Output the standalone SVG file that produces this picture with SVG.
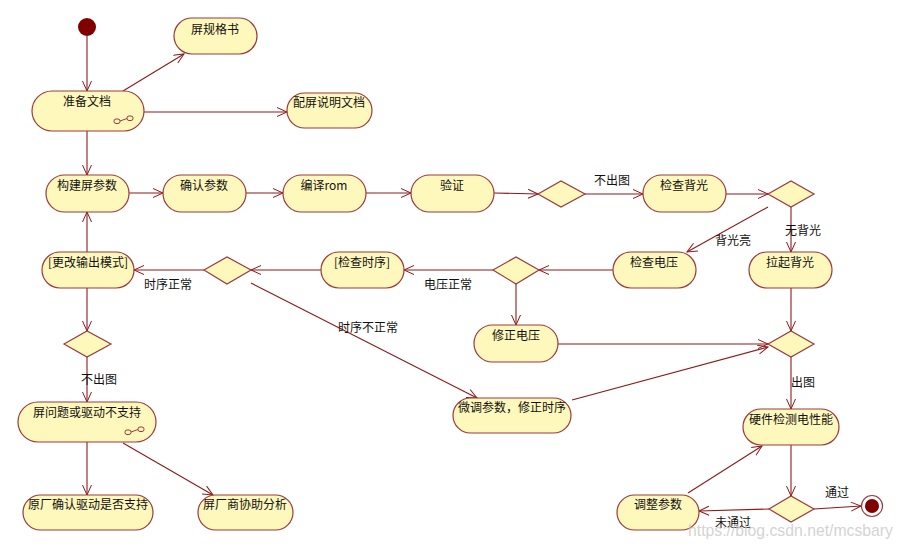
<svg xmlns="http://www.w3.org/2000/svg" width="903" height="550" viewBox="0 0 903 550">
<defs>
<marker id="arr" markerUnits="userSpaceOnUse" markerWidth="14" markerHeight="12" refX="11" refY="5" orient="auto">
<path d="M1,0.5 L11,5 L1,9.5" fill="none" stroke="#8b1a1a" stroke-width="1"/>
</marker>
<style>
.n{fill:#fff8bd;stroke:#9b3a3a;stroke-width:1.2}
.d{fill:#fff8bd;stroke:#9b3a3a;stroke-width:1.2}
.t{font-family:"Noto Sans CJK SC","Liberation Sans",sans-serif;font-size:12px;fill:#111;text-anchor:middle}
.l{font-family:"Noto Sans CJK SC","Liberation Sans",sans-serif;font-size:12px;fill:#111;text-anchor:middle}
.e{fill:none;stroke:#8b1a1a;stroke-width:1.1;marker-end:url(#arr)}
.ic{fill:#fff8bd;stroke:#9b3a3a;stroke-width:1}
</style>
</defs>
<rect width="903" height="550" fill="#fff"/>
<g id="connectors">
<path class="e" d="M87,36 L87,91"/>
<path class="e" d="M123,91 L184,54"/>
<path class="e" d="M144,112 L287,112"/>
<path class="e" d="M87,131 L87,175"/>
<path class="e" d="M129,193 L163,193"/>
<path class="e" d="M246,193 L283,193"/>
<path class="e" d="M366,193 L411,193"/>
<path class="e" d="M494,193 L538,194"/>
<path class="e" d="M585,194 L643,194"/>
<path class="e" d="M726,194 L768,194"/>
<path class="e" d="M791,207 L791,252"/>
<path class="e" d="M768,207 L687,252"/>
<path class="e" d="M613,270 L539,270"/>
<path class="e" d="M516,284 L516,325"/>
<path class="e" d="M493,270 L404,270"/>
<path class="e" d="M321,270 L251,270"/>
<path class="e" d="M204,270 L134,270"/>
<path class="e" d="M87,252 L87,212"/>
<path class="e" d="M87,288 L87,331"/>
<path class="e" d="M87,357 L87,402"/>
<path class="e" d="M87,442 L87,495"/>
<path class="e" d="M123,443 L213,495"/>
<path class="e" d="M251,283 L477,398"/>
<path class="e" d="M558,344 L768,344"/>
<path class="e" d="M572,400 L768,347"/>
<path class="e" d="M791,288 L791,331"/>
<path class="e" d="M791,357 L791,409"/>
<path class="e" d="M791,445 L791,496"/>
<path class="e" d="M814,509 L861,506"/>
<path class="e" d="M769,509 L699,511"/>
<path class="e" d="M688,493 L762,446"/>
<text class="l" x="612" y="185">不出图</text>
<text class="l" x="803" y="235">无背光</text>
<text class="l" x="733" y="245">背光亮</text>
<text class="l" x="448" y="289">电压正常</text>
<text class="l" x="168" y="289">时序正常</text>
<text class="l" x="99" y="384">不出图</text>
<text class="l" x="368" y="332">时序不正常</text>
<text class="l" x="803" y="387">出图</text>
<text class="l" x="837" y="497">通过</text>
<text class="l" x="733" y="527">未通过</text>
</g>
<g id="start"><circle cx="87" cy="27" r="9" fill="#800000"/></g>
<g id="n_spec"><rect class="n" x="174" y="18" width="83" height="36" rx="18"/><text class="t" x="215" y="34">屏规格书</text></g>
<g id="n_prep"><rect class="n" x="32" y="91" width="112" height="40" rx="20"/><text class="t" x="87" y="106">准备文档</text>
<rect class="ic" x="114" y="119" width="6" height="4.5" rx="2"/><rect class="ic" x="127" y="116" width="6" height="4.5" rx="2"/><path d="M120,121 L127,118.5" stroke="#9b3a3a" stroke-width="1"/></g>
<g id="n_doc"><rect class="n" x="287" y="93" width="85" height="35" rx="17.5"/><text class="t" x="329" y="107">配屏说明文档</text></g>
<g id="n_build"><rect class="n" x="46" y="175" width="83" height="37" rx="18.5"/><text class="t" x="87" y="190">构建屏参数</text></g>
<g id="n_confirm"><rect class="n" x="163" y="175" width="83" height="37" rx="18.5"/><text class="t" x="204" y="190">确认参数</text></g>
<g id="n_compile"><rect class="n" x="283" y="175" width="83" height="37" rx="18.5"/><text class="t" x="324" y="190">编译rom</text></g>
<g id="n_verify"><rect class="n" x="411" y="175" width="83" height="37" rx="18.5"/><text class="t" x="452" y="190">验证</text></g>
<g id="d1"><path class="d" d="M538,194 L561,181 L585,194 L561,207 Z"/></g>
<g id="n_backlight"><rect class="n" x="643" y="175" width="83" height="37" rx="18.5"/><text class="t" x="684" y="190">检查背光</text></g>
<g id="d2"><path class="d" d="M768,194 L791,181 L814,194 L791,207 Z"/></g>
<g id="n_raise"><rect class="n" x="749" y="252" width="83" height="36" rx="18"/><text class="t" x="790" y="267">拉起背光</text></g>
<g id="n_volt"><rect class="n" x="613" y="252" width="83" height="36" rx="18"/><text class="t" x="654" y="267">检查电压</text></g>
<g id="d3"><path class="d" d="M493,270 L516,257 L539,270 L516,284 Z"/></g>
<g id="n_fixv"><rect class="n" x="474" y="325" width="84" height="37" rx="18.5"/><text class="t" x="516" y="340">修正电压</text></g>
<g id="n_timing"><rect class="n" x="321" y="252" width="83" height="36" rx="18"/><text class="t" x="362" y="267">[检查时序]</text></g>
<g id="d4"><path class="d" d="M204,270 L227,257 L251,270 L227,284 Z"/></g>
<g id="n_mode"><rect class="n" x="42" y="252" width="92" height="36" rx="18"/><text class="t" x="88" y="267">[更改输出模式]</text></g>
<g id="d5"><path class="d" d="M64,344 L87,331 L111,344 L87,357 Z"/></g>
<g id="n_issue"><rect class="n" x="18" y="402" width="138" height="40" rx="20"/><text class="t" x="87" y="417">屏问题或驱动不支持</text>
<rect class="ic" x="125" y="430" width="6" height="4.5" rx="2"/><rect class="ic" x="138" y="427" width="6" height="4.5" rx="2"/><path d="M131,432 L138,429.5" stroke="#9b3a3a" stroke-width="1"/></g>
<g id="n_oem"><rect class="n" x="23" y="495" width="130" height="35" rx="17.5"/><text class="t" x="88" y="509">原厂确认驱动是否支持</text></g>
<g id="n_vendor"><rect class="n" x="198" y="495" width="95" height="35" rx="17.5"/><text class="t" x="245" y="509">屏厂商协助分析</text></g>
<g id="n_tune"><rect class="n" x="453" y="398" width="118" height="35" rx="17.5"/><text class="t" x="512" y="412">微调参数，修正时序</text></g>
<g id="d6"><path class="d" d="M768,344 L791,331 L814,344 L791,357 Z"/></g>
<g id="n_hw"><rect class="n" x="743" y="409" width="96" height="36" rx="18"/><text class="t" x="791" y="424">硬件检测电性能</text></g>
<g id="d7"><path class="d" d="M769,509 L791,496 L814,509 L791,522 Z"/></g>
<g id="n_adj"><rect class="n" x="617" y="495" width="82" height="35" rx="17.5"/><text class="t" x="658" y="509">调整参数</text></g>
<g id="end"><circle cx="872" cy="506" r="10.5" fill="#fff" stroke="#9b3a3a" stroke-width="1.2"/><circle cx="872" cy="506" r="7" fill="#800000"/></g>
<text x="688" y="536" font-family="Liberation Sans, sans-serif" font-size="17" fill="#c8c8c8" fill-opacity="0.8" textLength="205" lengthAdjust="spacingAndGlyphs">https://blog.csdn.net/mcsbary</text>
</svg>
